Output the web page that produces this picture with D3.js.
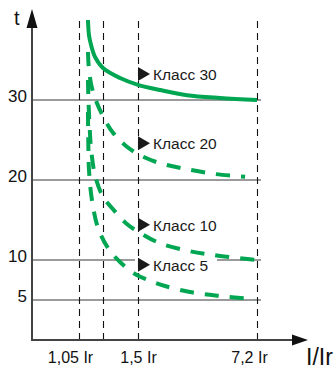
<!DOCTYPE html>
<html>
<head>
<meta charset="utf-8">
<script src="https://cdn.jsdelivr.net/npm/d3@7"></script>
<style>
  body { margin: 0; background: #fff; }
  svg { display: block; font-family: "Liberation Sans", Arial, sans-serif; }
</style>
</head>
<body>
<div id="chart"></div>
<script>
// tripping classes, values (x in I/Ir, y in t)
var classes = ["Класс 30", "Класс 20", "Класс 10", "Класс 5"];
var dashed = [false, true, true, true];

var class30 = [[1.106,40],[1.1125,38.1],[1.125,36.9],[1.15,35.4],[1.2,34],[1.346,32.75],[1.5,31.9],[2.554,31.25],[3.847,30.6],[5.43,30.25],[7.2,30]];
var class20 = [[1.106,36],[1.1125,33.75],[1.131,31.5],[1.1625,29.6],[1.217,27.5],[1.286,25.9],[1.397,24.25],[1.596,23.1],[2.554,22.1],[3.751,21.4],[5.19,20.75],[6.63,20.4]];
var class10 = [[1.106,32.5],[1.109,30],[1.116,26.9],[1.125,24],[1.15,20.6],[1.2,17.9],[1.277,16.5],[1.397,14.6],[1.596,13.4],[2.554,12.1],[3.99,11.1],[5.43,10.5],[7.2,10]];
var class5 = [[1.106,28.5],[1.108,25],[1.1125,21.25],[1.131,17.5],[1.169,14],[1.243,11.5],[1.346,9.75],[1.474,8.25],[2.075,7.4],[2.793,6.75],[3.99,6],[5.43,5.5],[7.1,5.1]];
var series = [class30, class20, class10, class5];

var labelT = [33.25, 24.6, 14.4, 9.4];   // where each class label sits on t
var labelAt = 1.5;                        // labels hang on the 1,5 Ir line

var tTicks = [5, 10, 20, 30];
var irLines = [1.05, 1.2, 1.5, 7.2];
var irTicks = [1.05, 1.5, 7.2];
var irTickLabels = ["1,05 Ir", "1,5 Ir", "7,2 Ir"];

var width = 336, height = 374;
var green = "#00a651";

// the x axis is schematic, so a piecewise scale
var x = d3.scaleLinear()
    .domain([0.95, 1.05, 1.2, 1.5, 7.2, 8.3])
    .range([32, 79, 103, 138, 257, 307]);
var y = d3.scaleLinear().domain([0, 40]).range([340, 20]);

var svg = d3.select("#chart").append("svg")
    .attr("width", width)
    .attr("height", height);

// horizontal grid
svg.append("g").selectAll("line")
  .data(tTicks)
  .join("line")
    .attr("x1", x(0.95))
    .attr("x2", x(7.2) + 4)
    .attr("y1", d => y(d))
    .attr("y2", d => y(d))
    .attr("stroke", "#7a7a7a")
    .attr("stroke-width", 1.5);

// white patches behind the class labels (breaks the grid line at Класс 5)
var lab = svg.append("g");
lab.selectAll("rect")
  .data(labelT)
  .join("rect")
    .attr("x", x(labelAt) - 3)
    .attr("y", d => y(d) - 8)
    .attr("width", 82)
    .attr("height", 15)
    .attr("fill", "#fff");

// vertical dashed lines
svg.append("g").selectAll("line")
  .data(irLines)
  .join("line")
    .attr("x1", d => x(d) + 0.5)
    .attr("x2", d => x(d) + 0.5)
    .attr("y1", y(0))
    .attr("y2", y(40.25))
    .attr("stroke", "#111")
    .attr("stroke-width", 1.1)
    .attr("stroke-dasharray", "7,5");

// axes
svg.append("line")
    .attr("x1", x(0.95)).attr("x2", x(0.95))
    .attr("y1", y(0) + 1).attr("y2", 26)
    .attr("stroke", "#444").attr("stroke-width", 2);
svg.append("path")
    .attr("d", "M" + (x(0.95) - 5.5) + ",28L" + x(0.95) + ",9L" + (x(0.95) + 5.5) + ",28Z")
    .attr("fill", "#111");
svg.append("line")
    .attr("x1", x(0.95) - 1).attr("x2", 294)
    .attr("y1", y(0)).attr("y2", y(0))
    .attr("stroke", "#444").attr("stroke-width", 2);
svg.append("path")
    .attr("d", "M292," + (y(0) - 5.5) + "L308," + y(0) + "L292," + (y(0) + 5.5) + "Z")
    .attr("fill", "#111");

svg.append("text")
    .attr("x", 14).attr("y", 25)
    .attr("font-size", 20).attr("fill", "#111")
    .text("t");
svg.append("text")
    .attr("x", 306).attr("y", 365)
    .attr("font-size", 23).attr("fill", "#111")
    .text("I/Ir");

// t tick labels
var yAxis = svg.append("g")
    .attr("transform", "translate(" + x(0.95) + ",0)")
    .call(d3.axisLeft(y).tickValues(tTicks).tickSize(0).tickPadding(5));
yAxis.select(".domain").remove();
yAxis.selectAll("text")
    .attr("font-size", 17)
    .attr("font-family", "Liberation Sans, Arial, sans-serif")
    .attr("fill", "#111")
    .attr("dy", "0.1em");

// Ir tick labels
var shift = [-9, 0, -8];
var xAxis = svg.append("g")
    .attr("transform", "translate(0," + y(0) + ")")
    .call(d3.axisBottom(x).tickValues(irTicks).tickSize(0).tickPadding(12)
      .tickFormat((d, i) => irTickLabels[i]));
xAxis.select(".domain").remove();
xAxis.selectAll("text")
    .attr("font-size", 16)
    .attr("font-family", "Liberation Sans, Arial, sans-serif")
    .attr("fill", "#111")
    .attr("dx", (d, i) => shift[i]);

// class curves
var line = d3.line()
    .x(d => x(d[0]))
    .y(d => y(d[1]))
    .curve(d3.curveCatmullRom.alpha(0.5));

svg.append("g").selectAll("path")
  .data(series)
  .join("path")
    .attr("d", line)
    .attr("fill", "none")
    .attr("stroke", green)
    .attr("stroke-width", 4)
    .attr("stroke-dasharray", (d, i) => dashed[i] ? "14,11" : null);

// class labels with markers
var tri = svg.append("g").selectAll("g")
  .data(classes)
  .join("g")
    .attr("transform", (d, i) => "translate(" + x(labelAt) + "," + y(labelT[i]) + ")");
tri.append("path")
    .attr("d", "M0,-7L12,0L0,7Z")
    .attr("fill", "#1a1a1a");
tri.append("text")
    .attr("x", 15)
    .attr("y", 6)
    .attr("font-size", 15.5)
    .attr("fill", "#1a1a1a")
    .text(d => d);
</script>
</body>
</html>
